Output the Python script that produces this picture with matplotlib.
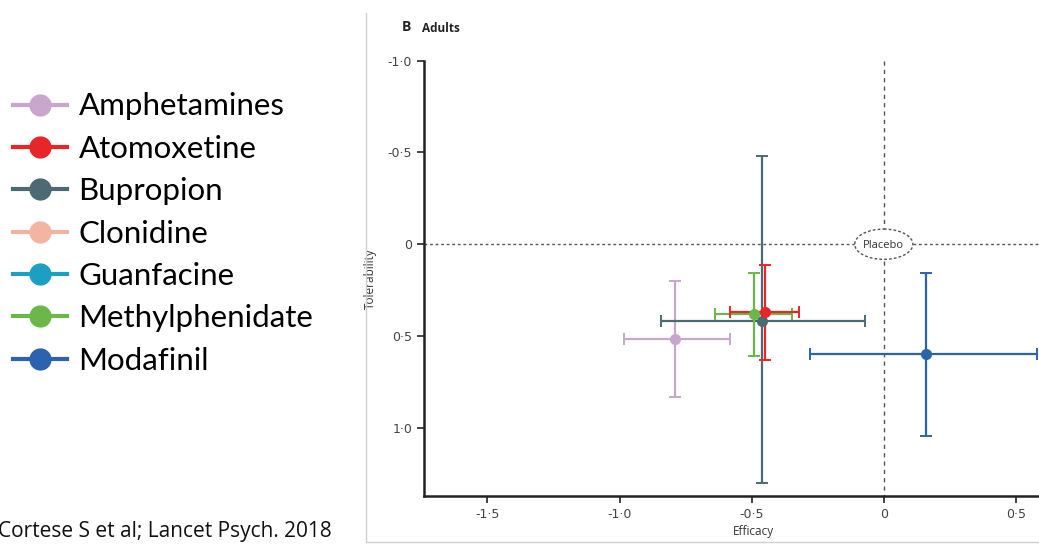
import matplotlib
matplotlib.use("Agg")
import matplotlib.pyplot as plt
from matplotlib.lines import Line2D
from matplotlib.patches import Ellipse

# legend entries (all drugs in the network)
drugs = ["Amphetamines", "Atomoxetine", "Bupropion", "Clonidine",
         "Guanfacine", "Methylphenidate", "Modafinil"]
colors = ["#c9a6cc", "#e8262a", "#4c6a73", "#f3b5a1",
          "#1d9fc4", "#6bb74a", "#2b63ae"]

# drugs with adult data: efficacy (x) and tolerability (y) with 95% CIs
plot_drugs = ["Amphetamines", "Bupropion", "Methylphenidate", "Atomoxetine", "Modafinil"]
efficacy = [-0.79, -0.46, -0.49, -0.45, 0.16]
eff_low = [-0.985, -0.843, -0.639, -0.582, -0.278]
eff_high = [-0.581, -0.072, -0.349, -0.320, 0.581]
tolerability = [0.514, 0.416, 0.38, 0.369, 0.598]
tol_low = [0.198, -0.481, 0.155, 0.113, 0.155]
tol_high = [0.834, 1.299, 0.607, 0.630, 1.045]

xticks = [-1.5, -1.0, -0.5, 0, 0.5]
yticks = [-1.0, -0.5, 0, 0.5, 1.0]


def lancet_fmt(v):
    if v == 0:
        return "0"
    return f"{v:.1f}".replace(".", "\u00b7")


fig = plt.figure(figsize=(10.39, 5.44), dpi=100)
W, H = 1039, 544

# panel frame
fig.add_artist(Line2D([366 / W, 366 / W], [1 - 13 / H, 1 - 542 / H], color="#cfcfcf", lw=1))
fig.add_artist(Line2D([366 / W, 1.0], [1 - 542 / H, 1 - 542 / H], color="#cfcfcf", lw=1))

ax = fig.add_axes([424 / W, 48 / H, 658 / W, 435.3 / H])
ax.set_xlim(-1.74, 0.75)
ax.set_ylim(1.372, -1.0)
for s in ["top", "right"]:
    ax.spines[s].set_visible(False)
for s in ["left", "bottom"]:
    ax.spines[s].set_linewidth(1.8)
    ax.spines[s].set_color("#222222")

ax.set_xticks(xticks)
ax.set_xticklabels([lancet_fmt(v) for v in xticks])
ax.set_yticks(yticks)
ax.set_yticklabels([lancet_fmt(v) for v in yticks])
ax.tick_params(length=5, width=1.2, labelsize=9, colors="#222222", labelcolor="#444444")

# reference lines
ax.axhline(0, color="#555555", lw=1, ls=(0, (2, 2)), zorder=1)
ax.plot([0, 0], [-1.0, 1.372], color="#555555", lw=1, ls=(0, (3, 3)), zorder=1)
ax.add_patch(Ellipse((0, 0), 0.22, 0.165, facecolor="white", edgecolor="#555555",
                     lw=1, ls=(0, (2, 1.5)), zorder=3))
ax.text(0, 0.005, "Placebo", ha="center", va="center", fontsize=8,
        family="Open Sans", color="#333333", zorder=4)

for i, name in enumerate(plot_drugs):
    c = colors[drugs.index(name)]
    x, y = efficacy[i], tolerability[i]
    ax.errorbar(x, y,
                xerr=[[x - eff_low[i]], [eff_high[i] - x]],
                yerr=[[y - tol_low[i]], [tol_high[i] - y]],
                fmt="o", color=c, ecolor=c, ms=7, capsize=4, elinewidth=1.6,
                capthick=1.4, zorder=5)

ax.set_xlabel("Efficacy", fontsize=8.5, family="Open Sans", color="#333333", labelpad=3)
ax.set_ylabel("Tolerability", fontsize=8.5, family="Open Sans", color="#333333", labelpad=8)

fig.text(402 / W, 1 - 27 / H, "B", fontsize=10, fontweight="bold", family="Open Sans",
         va="center", color="#222222")
fig.text(422 / W, 1 - 28 / H, "Adults", fontsize=8.5, fontweight="bold", family="Open Sans",
         va="center", color="#222222")

# legend on the left
handles = [Line2D([], [], color=c, marker="o", ms=15, lw=3) for c in colors]
fig.legend(handles, drugs, loc="upper left", bbox_to_anchor=(0.0, 1 - 80 / H),
           frameon=False, prop={"family": "Lato", "size": 22.5}, handlelength=1.73,
           handletextpad=0.38, labelspacing=0.46, borderaxespad=0.0, borderpad=0.4)

fig.text(-2 / W, 1 - 531 / H, "Cortese S et al; Lancet Psych. 2018", fontsize=15,
         family="Open Sans", va="center", color="#111111")

fig.savefig("out.png", dpi=100)
